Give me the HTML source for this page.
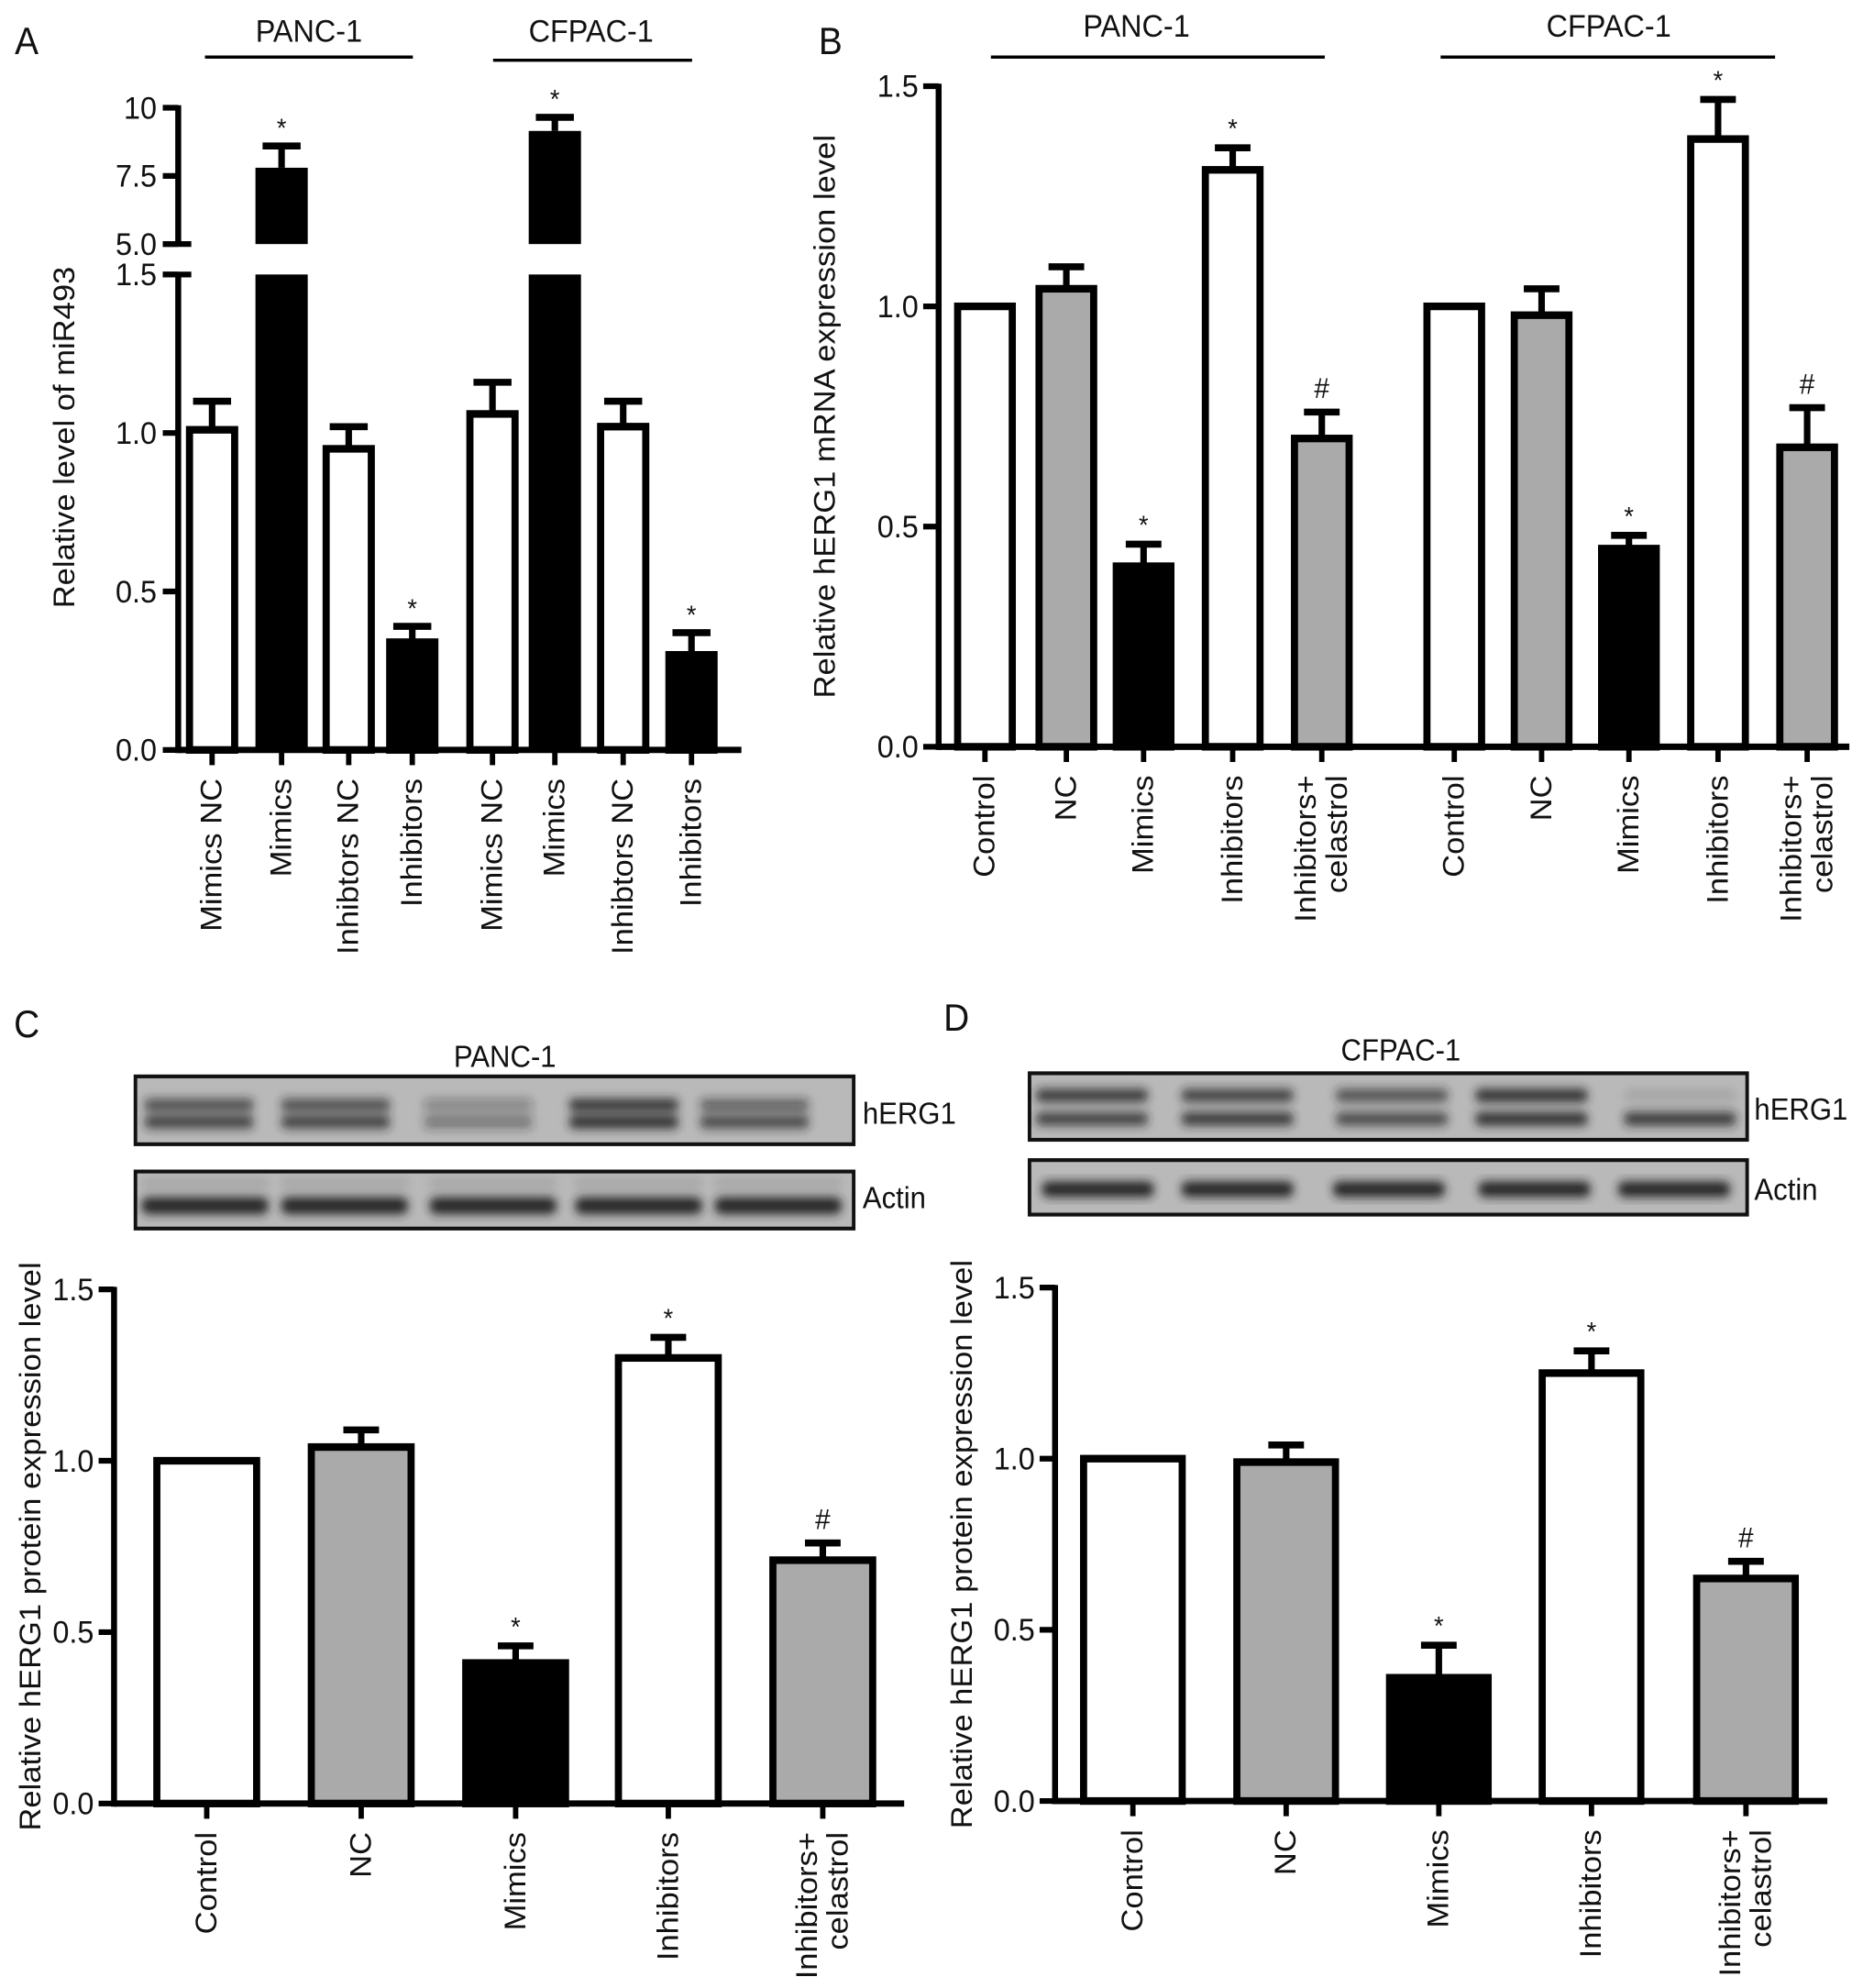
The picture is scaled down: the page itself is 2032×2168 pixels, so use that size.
<!DOCTYPE html>
<html><head><meta charset="utf-8"><style>
html,body{margin:0;padding:0;background:#fff;}
svg{display:block;}
text{font-family:"Liberation Sans",Arial,sans-serif;fill:#111;}
</style></head><body>
<svg id="fig" xmlns="http://www.w3.org/2000/svg" width="2032" height="2168" viewBox="0 0 3136 3136" preserveAspectRatio="none">
<defs><filter id="blur" x="-20%" y="-50%" width="140%" height="200%"><feGaussianBlur stdDeviation="8"/></filter></defs>
<rect width="3136" height="3136" fill="#fff"/>
</svg>
<script>
// ---- Panel A data ----
const aCategories = ["Mimics NC","Mimics","Inhibtors NC","Inhibitors","Mimics NC","Mimics","Inhibtors NC","Inhibitors"];
const aValues = [1.01, 7.8, 0.95, 0.34, 1.06, 9.15, 1.02, 0.30];
const aErrors = [0.09, 0.8, 0.07, 0.05, 0.10, 0.5, 0.08, 0.07];
const aFills = ["w","k","w","k","w","k","w","k"];
const aStars = ["","*","","*","","*","","*"];
const aLowerTicks = [0.0, 0.5, 1.0, 1.5];
const aUpperTicks = [5.0, 7.5, 10];
// ---- Panel B data ----
const bCategories = ["Control","NC","Mimics","Inhibitors","Inhibitors+|celastrol","Control","NC","Mimics","Inhibitors","Inhibitors+|celastrol"];
const bValues = [1.0, 1.04, 0.41, 1.31, 0.70, 1.0, 0.98, 0.45, 1.38, 0.68];
const bErrors = [0, 0.05, 0.05, 0.05, 0.06, 0, 0.06, 0.03, 0.09, 0.09];
const bFills = ["w","g","k","w","g","w","g","k","w","g"];
const bMarks = ["","","*","*","#","","","*","*","#"];
const yTicks = [0.0, 0.5, 1.0, 1.5];
// ---- Panel C data ----
const cCategories = ["Control","NC","Mimics","Inhibitors","Inhibitors+|celastrol"];
const cValues = [1.0, 1.04, 0.41, 1.30, 0.71];
const cErrors = [0, 0.05, 0.05, 0.06, 0.05];
const cFills = ["w","g","k","w","g"];
const cMarks = ["","","*","*","#"];
// ---- Panel D data ----
const dCategories = ["Control","NC","Mimics","Inhibitors","Inhibitors+|celastrol"];
const dValues = [1.0, 0.99, 0.36, 1.25, 0.65];
const dErrors = [0, 0.05, 0.095, 0.065, 0.05];
const dFills = ["w","g","k","w","g"];
const dMarks = ["","","*","*","#"];

const svg = document.getElementById('fig');
const NS = "http://www.w3.org/2000/svg";
function el(tag, attrs, parent){const e=document.createElementNS(NS,tag);for(const k in attrs)e.setAttribute(k,attrs[k]);(parent||svg).appendChild(e);return e;}
function txt(s, x, y, size, anchor, parent, rot){const t=el('text',{x:x,y:y,'font-size':size,'text-anchor':anchor||'middle'},parent);if(rot)t.setAttribute('transform','rotate(-90 '+x+' '+y+')');t.textContent=s;return t;}
const FILL={w:"#fff",g:"#aaa",k:"#000"};

function barChart(name, axisX, axisEnd, y0, ppu, lefts, bw, values, errors, fills, marks, cats, yt, ytitle, titleX){
  const g=el('g',{});
  
  
  const Y=v=>y0-v*ppu;
  const ax=el('line',{x1:axisX,y1:Y(1.5)-4,x2:axisX,y2:y0+5,stroke:'#000','stroke-width':10},g);
  
  
  yt.forEach(v=>{
    el('line',{x1:axisX-26,y1:Y(v),x2:axisX,y2:Y(v),stroke:'#000','stroke-width':9},g);
    const t=txt(v.toFixed(1),axisX-34,Y(v)+17,50,'end',g);
    
    
  });
  const xa=el('line',{x1:axisX,y1:y0,x2:axisEnd,y2:y0,stroke:'#000','stroke-width':10},g);
  
  
  const yl=txt(ytitle,titleX,Y(0.75),50,'middle',g,true);
  
  
  values.forEach((v,i)=>{
    const x=lefts[i], cx=x+bw/2, top=Y(v);
    const e=errors[i];
    if(e>0){
      el('line',{x1:cx,y1:Y(v+e),x2:cx,y2:top,stroke:'#000','stroke-width':11},g);
      el('line',{x1:cx-30,y1:Y(v+e),x2:cx+30,y2:Y(v+e),stroke:'#000','stroke-width':11},g);
    }
    const r=el('rect',{x:x+6,y:top,width:bw-12,height:y0-top,fill:FILL[fills[i]],stroke:'#000','stroke-width':12},g);
    
    
    if(marks[i]){
      const my=Y(v+e)-(marks[i]=='#'?22:16);
      const m=txt(marks[i],cx,my,marks[i]=='#'?46:42,'middle',g);
      
      
    }
    el('line',{x1:cx,y1:y0,x2:cx,y2:y0+24,stroke:'#000','stroke-width':9},g);
    const parts=cats[i].split('|');
    parts.forEach((p,k)=>{
      const lx=cx+16+(k-(parts.length-1)/2)*52*(parts.length>1?1:0);
      const t=txt(p,lx,y0+45,50,'end',g,true);
      
      
    });
  });
  return g;
}

// ---- Panel A (broken axis) ----
(function(){
  const g=el('g',{});
  
  
  const ax=300, y0=1183, ppu=500, up5=385, uppu=43;
  const YL=v=>y0-v*ppu, YU=v=>up5-(v-5)*uppu;
  const lefts=[313,430,543,650,785,890,1005,1120], bw=88;
  el('line',{x1:ax,y1:YU(10)-4,x2:ax,y2:up5,stroke:'#000','stroke-width':10},g);
  el('line',{x1:ax,y1:YL(1.5),x2:ax,y2:y0+5,stroke:'#000','stroke-width':10},g);
  el('line',{x1:ax,y1:y0,x2:1248,y2:y0,stroke:'#000','stroke-width':10},g);
  el('line',{x1:ax-26,y1:up5,x2:ax+22,y2:up5,stroke:'#000','stroke-width':9},g);
  el('line',{x1:ax-26,y1:YL(1.5),x2:ax+22,y2:YL(1.5),stroke:'#000','stroke-width':9},g);
  aLowerTicks.forEach(v=>{el('line',{x1:ax-26,y1:YL(v),x2:ax,y2:YL(v),stroke:'#000','stroke-width':9},g);
    const t=txt(v.toFixed(1),ax-36,YL(v)+17,50,'end',g);});
  aUpperTicks.forEach(v=>{el('line',{x1:ax-26,y1:YU(v),x2:ax,y2:YU(v),stroke:'#000','stroke-width':9},g);
    const t=txt(v==10?'10':v.toFixed(1),ax-36,YU(v)+17,50,'end',g);});
  const yl=txt('Relative level of miR493',125,690,50,'middle',g,true);
  
  aValues.forEach((v,i)=>{
    const x=lefts[i],cx=x+bw/2,e=aErrors[i];
    if(v>1.5){
      const top=YU(v);
      el('line',{x1:cx,y1:YU(v+e),x2:cx,y2:top,stroke:'#000','stroke-width':11},g);
      el('line',{x1:cx-32,y1:YU(v+e),x2:cx+32,y2:YU(v+e),stroke:'#000','stroke-width':11},g);
      const r1=el('rect',{x:x,y:top,width:bw,height:up5-top,fill:'#000'},g);
      
      const r2=el('rect',{x:x,y:YL(1.5),width:bw,height:y0-YL(1.5),fill:'#000'},g);
      
      const s=txt('*',cx,YU(v+e)-14,42,'middle',g);
    } else {
      const top=YL(v);
      el('line',{x1:cx,y1:YL(v+e),x2:cx,y2:top,stroke:'#000','stroke-width':11},g);
      el('line',{x1:cx-32,y1:YL(v+e),x2:cx+32,y2:YL(v+e),stroke:'#000','stroke-width':11},g);
      const r=el('rect',{x:x+6,y:top,width:bw-12,height:y0-top,fill:FILL[aFills[i]],stroke:'#000','stroke-width':12},g);
      
      if(aStars[i]){const s=txt('*',cx,YL(v+e)-14,42,'middle',g);}
    }
    el('line',{x1:cx,y1:y0,x2:cx,y2:y0+24,stroke:'#000','stroke-width':9},g);
    const t=txt(aCategories[i],cx+16,y0+45,50,'end',g,true);
    
  });
  const l=txt('A',45,85,60,'middle',g);
  [['PANC-1',520,345,695,90],['CFPAC-1',995,830,1165,95]].forEach(a=>{
    const t=txt(a[0],a[1],66,50,'middle',g);
    el('line',{x1:a[2],y1:a[4],x2:a[3],y2:a[4],stroke:'#000','stroke-width':5},g);
  });
})();

// ---- Panel B ----
(function(){
  const ox=1568;
  const lefts=[38,175,305,455,605,828,975,1122,1272,1422].map(v=>v+ox);
  barChart('panel-b-chart',1580,3113,1178,694.7,lefts,104,bValues,bErrors,bFills,bMarks,bCategories,yTicks,'Relative hERG1 mRNA expression level',1405);
  const l=txt('B',1398,85,60,'middle');
  [['PANC-1',1913,1668,2230],['CFPAC-1',2708,2425,2988]].forEach(a=>{
    const t=txt(a[0],a[1],58,50,'middle');
    el('line',{x1:a[2],y1:90,x2:a[3],y2:90,stroke:'#000','stroke-width':5});
  });
})();

function blot(name,x,y,w,h,lanes,bands,bw){
  const g=el('g',{});
  
  
  el('rect',{x:x,y:y,width:w,height:h,fill:'#b9b9b9',stroke:'#111','stroke-width':6},g);
  const inner=el('g',{filter:'url(#blur)'},g);
  lanes.forEach((lx,i)=>{
    bands.forEach(b=>{
      el('rect',{x:lx-bw/2,y:y+b[0]-b[1]/2,width:bw,height:b[1],rx:b[1]/2,fill:'#222','fill-opacity':b[2][i]},inner);
    });
  });
  return g;
}

// ---- Panel C ----
(function(){
  const oy=1568;
  const l=txt('C',45,oy+68,60,'middle');
  const t=txt('PANC-1',850,oy+115,48,'middle');
  blot('herg1-blot-panc',228,oy+130,1209,107,[335,565,805,1050,1270],[[45,18,[0.75,0.75,0.35,0.95,0.6]],[72,20,[0.8,0.8,0.45,0.95,0.75]]],185);
  blot('actin-blot-panc',228,oy+280,1209,90,[345,580,830,1075,1310],[[18,8,[0.2,0.2,0.2,0.2,0.2]],[54,26,[1,1,1,1,1]]],215);
  const h=txt('hERG1',1452,oy+205,48,'start');
  const a=txt('Actin',1452,oy+338,48,'start');
  barChart('panel-c-chart',192,1522,oy+1277,540.7,[258,518,778,1035,1295],180,cValues,cErrors,cFills,cMarks,cCategories,yTicks,'Relative hERG1 protein expression level',68);
})();

// ---- Panel D ----
(function(){
  const ox=1568, oy=1568;
  const l=txt('D',ox+42,oy+58,60,'middle');
  const t=txt('CFPAC-1',ox+790,oy+105,48,'middle');
  blot('herg1-blot-cfpac',ox+165,oy+125,1208,105,[ox+270,ox+515,ox+775,ox+1010,ox+1260],[[35,20,[0.85,0.8,0.7,0.95,0.1]],[72,20,[0.8,0.85,0.75,0.95,0.85]]],190);
  blot('actin-blot-cfpac',ox+165,oy+262,1208,86,[ox+280,ox+515,ox+770,ox+1015,ox+1250],[[46,24,[1,1,1,1,1]]],190);
  const h=txt('hERG1',ox+1385,oy+198,48,'start');
  const a=txt('Actin',ox+1385,oy+325,48,'start');
  barChart('panel-d-chart',ox+208,ox+1508,oy+1273,540,[250,508,765,1022,1282].map(v=>v+ox),178,dValues,dErrors,dFills,dMarks,dCategories,yTicks,'Relative hERG1 protein expression level',ox+68);
})();
</script>
</body></html>
